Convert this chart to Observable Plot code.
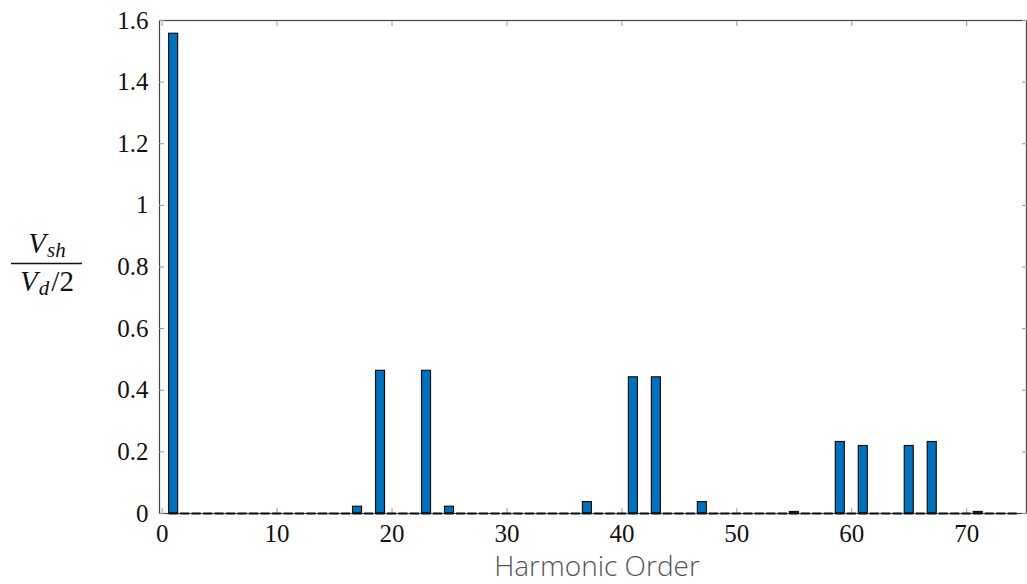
<!DOCTYPE html>
<html>
<head>
<meta charset="utf-8">
<script src="https://cdn.jsdelivr.net/npm/d3@7"></script>
<script src="https://cdn.jsdelivr.net/npm/@observablehq/plot@0.6"></script>
<style>
  html, body { margin: 0; padding: 0; background: #fff; }
  #chart { width: 1027px; height: 584px; }
</style>
</head>
<body>
<div id="chart"></div>
<script>
// Harmonic orders with non-zero amplitude and their values (Vsh / (Vd/2))
const harmonics  = [1, 17, 19, 23, 25, 37, 41, 43, 47, 55, 59, 61, 65, 67, 71];
const amplitudes = [1.557, 0.022, 0.463, 0.463, 0.022, 0.037, 0.442, 0.442, 0.037, 0.005, 0.232, 0.219, 0.219, 0.232, 0.005];
// all harmonic orders shown on the axis (the rest are zero)
const orders = d3.range(1, 75);
const xTicks = [0, 10, 20, 30, 40, 50, 60, 70];
const yTicks = [0, 0.2, 0.4, 0.6, 0.8, 1, 1.2, 1.4, 1.6];
const xLabel = "Harmonic Order";

const valueOf = new Map(harmonics.map((h, i) => [h, amplitudes[i]]));
const data = orders.map(h => ({h, v: valueOf.get(h) ?? 0}));

const serif = "'Liberation Serif', 'DejaVu Serif', serif";
const fmt = d => String(Math.round(d * 10) / 10);

const plot = Plot.plot({
  width: 1027,
  height: 584,
  marginLeft: 159,
  marginRight: 1,
  marginTop: 20,
  marginBottom: 71,
  style: {fontFamily: serif, fontSize: "25px", color: "#111", background: "#fff"},
  x: {domain: [-0.23, 75.2]},
  y: {domain: [0, 1.6]},
  marks: [
    Plot.frame({stroke: "#444", strokeWidth: 1.2}),
    // inward ticks on all four sides
    Plot.axisX(xTicks, {anchor: "bottom", tickSize: -5, text: null, stroke: "#999", label: null}),
    Plot.axisX(xTicks, {anchor: "top", tickSize: -5, text: null, stroke: "#999", label: null}),
    Plot.axisY(yTicks, {anchor: "left", tickSize: -5, text: null, stroke: "#999", label: null}),
    Plot.axisY(yTicks, {anchor: "right", tickSize: -5, text: null, stroke: "#999", label: null}),
    // tick labels
    Plot.axisX(xTicks, {anchor: "bottom", tickSize: 0, tickPadding: 11, tickFormat: fmt, label: null, fontSize: 25}),
    Plot.axisY(yTicks, {anchor: "left", tickSize: 0, tickPadding: 11, tickFormat: fmt, label: null, fontSize: 25}),
    // bars
    Plot.rectY(data, {
      x1: d => d.h - 0.5, x2: d => d.h + 0.5, y1: 0, y2: "v",
      insetLeft: 1.25, insetRight: 1.25,
      fill: "#0072bd", stroke: "#111", strokeWidth: 1.2
    }),
    // zero-height bars show as their outline on the baseline
    Plot.ruleY(data, {
      x1: d => d.h - 0.39, x2: d => d.h + 0.39, y: 0,
      stroke: "#111", strokeWidth: 2
    })
  ]
});

const svg = d3.select(plot);
// x-axis title
svg.append("text")
  .attr("x", 597).attr("y", 576)
  .attr("text-anchor", "middle")
  .style("font-family", "'Open Sans', 'Lato', sans-serif")
  .style("font-weight", 300)
  .style("font-size", "28px")
  .style("fill", "#555")
  .text(xLabel);

// y-axis title: fraction Vsh / (Vd/2)
const g = svg.append("g").style("font-family", serif).style("fill", "#111");
const num = g.append("text").attr("x", 47).attr("y", 253).attr("text-anchor", "middle").style("font-size", "29px");
num.append("tspan").style("font-style", "italic").text("V");
num.append("tspan").style("font-style", "italic").style("font-size", "21px").attr("dy", 4).attr("dx", 1).text("sh");
g.append("line").attr("x1", 11).attr("x2", 82).attr("y1", 263.5).attr("y2", 263.5)
  .attr("stroke", "#111").attr("stroke-width", 1.3);
const den = g.append("text").attr("x", 47).attr("y", 291).attr("text-anchor", "middle").style("font-size", "29px");
den.append("tspan").style("font-style", "italic").text("V");
den.append("tspan").style("font-style", "italic").style("font-size", "21px").attr("dy", 4).attr("dx", 1).text("d");
den.append("tspan").attr("dy", -4).attr("dx", 2).text("/2");

document.getElementById("chart").appendChild(plot);
</script>
</body>
</html>
